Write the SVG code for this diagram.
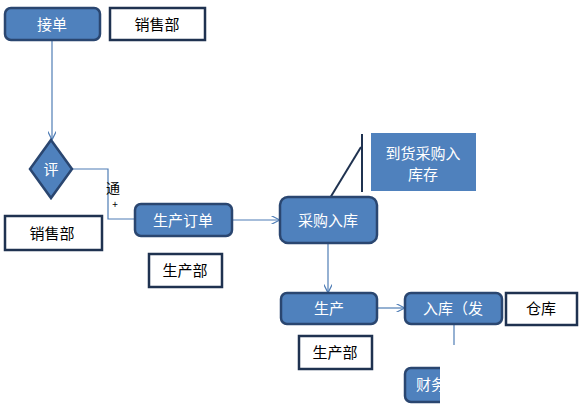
<svg xmlns="http://www.w3.org/2000/svg" width="580" height="406" viewBox="0 0 580 406">
<style>
.b{fill:#4F81BD;stroke:#2A4670;stroke-width:2.5}
.w{fill:#fff;stroke:#1F3250;stroke-width:2.5}
.tw{font-family:"Noto Sans CJK SC","Noto Sans",sans-serif;font-size:15px;fill:#fff;text-anchor:middle}
.tb{font-family:"Noto Sans CJK SC","Noto Sans",sans-serif;font-size:15px;fill:#000;text-anchor:middle}
.c{fill:none;stroke:#4F7DB5;stroke-width:1.2}
</style>
<defs>
<marker id="a" viewBox="0 0 10 10" refX="9" refY="5" markerWidth="7" markerHeight="7" orient="auto"><path d="M0,0 L10,5 L0,10" fill="none" stroke="#4F7DB5" stroke-width="1.5"/></marker>
<clipPath id="clipR"><rect x="0" y="0" width="440" height="406"/></clipPath>
</defs>
<rect width="580" height="406" fill="#fff"/>
<g id="connectors">
<line class="c" x1="52" y1="41" x2="52" y2="139" marker-end="url(#a)"/>
<polyline class="c" points="72,169 108,169 108,219 134,219" stroke="#8a9bb0"/>
<line class="c" x1="233" y1="220" x2="279" y2="220" marker-end="url(#a)"/>
<line class="c" x1="328" y1="244" x2="328" y2="292" marker-end="url(#a)"/>
<line class="c" x1="378" y1="308" x2="404" y2="308" marker-end="url(#a)"/>
<line class="c" x1="454" y1="325" x2="454" y2="345"/>
<text x="113" y="193" class="tb" style="font-size:14px">通</text>
<text x="115" y="208" class="tb" style="font-size:10px">+</text>
</g>
<g id="callout">
<line x1="361" y1="147" x2="330" y2="198" stroke="#1F3250" stroke-width="2"/>
<line x1="362" y1="134" x2="362" y2="192" stroke="#1F3250" stroke-width="2"/>
<rect x="371" y="133" width="105" height="58" fill="#4F81BD"/>
<text x="423" y="159" class="tw">到货采购入</text>
<text x="423" y="180" class="tw">库存</text>
</g>
<g id="n1"><rect class="b" x="5" y="8" width="95" height="32" rx="6"/><text x="52" y="30" class="tw">接单</text></g>
<g id="n2"><rect class="w" x="110" y="8" width="95" height="32"/><text x="157" y="30" class="tb">销售部</text></g>
<g id="n3"><polygon class="b" points="51,140 72,169 51,198 30,169"/><text x="51" y="175" class="tw">评</text></g>
<g id="n4"><rect class="w" x="5" y="216" width="97" height="34"/><text x="52" y="239" class="tb">销售部</text></g>
<g id="n5"><rect class="b" x="135" y="204" width="97" height="32" rx="6"/><text x="183" y="226" class="tw">生产订单</text></g>
<g id="n6"><rect class="w" x="149" y="254" width="73" height="33"/><text x="185" y="276" class="tb">生产部</text></g>
<g id="n7"><rect class="b" x="280" y="197" width="97" height="46" rx="8"/><text x="328" y="226" class="tw">采购入库</text></g>
<g id="n8"><rect class="b" x="281" y="293" width="96" height="31" rx="6"/><text x="329" y="314" class="tw">生产</text></g>
<g id="n9"><rect class="b" x="405" y="293" width="97" height="31" rx="6"/><text x="453" y="314" class="tw">入库（发</text></g>
<g id="n10"><rect class="w" x="506" y="293" width="71" height="32"/><text x="541" y="314" class="tb">仓库</text></g>
<g id="n11"><rect class="w" x="299" y="336" width="73" height="33"/><text x="335" y="358" class="tb">生产部</text></g>
<g id="n12" clip-path="url(#clipR)"><rect class="b" x="405" y="368" width="90" height="34" rx="6"/><text x="416" y="390" class="tw" style="text-anchor:start">财务</text></g>
</svg>
